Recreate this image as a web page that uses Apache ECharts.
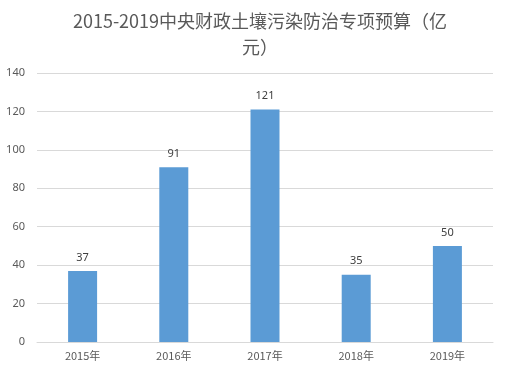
<!DOCTYPE html>
<html><head><meta charset="utf-8">
<script src="https://cdn.jsdelivr.net/npm/echarts@6/dist/echarts.min.js"></script>
<style>html,body{margin:0;padding:0;background:#fff}#c{width:509px;height:375px}</style>
</head><body><div id="c"></div>
<script>
const categories = ['2015年','2016年','2017年','2018年','2019年'];
const values = [37, 91, 121, 35, 50];
const titleText = '2015-2019中央财政土壤污染防治专项预算（亿\n元）';
const chart = echarts.init(document.getElementById('c'));
chart.setOption({
  animation:false,
  title:{text:titleText,left:255,top:3,textAlign:'center',
    textStyle:{fontFamily:'Noto Sans CJK SC',fontSize:18,fontWeight:'normal',color:'#595959',lineHeight:26}},
  grid:{left:37,right:16,top:73,bottom:33},
  xAxis:{type:'category',data:categories,
    axisLine:{lineStyle:{color:'#d9d9d9'}},axisTick:{show:false},
    axisLabel:{color:'#595959',fontSize:11,fontFamily:'Noto Sans CJK SC',margin:8}},
  yAxis:{type:'value',min:0,max:140,interval:20,
    axisLine:{show:false},axisTick:{show:false},
    splitLine:{lineStyle:{color:'#d9d9d9'}},
    axisLabel:{color:'#595959',fontSize:11,fontFamily:'Noto Sans',margin:12}},
  series:[{type:'bar',data:values,barWidth:29,itemStyle:{color:'#5b9bd5'},
    label:{show:true,position:'top',distance:8,color:'#404040',fontSize:11,fontFamily:'Noto Sans'}}]
});
</script></body></html>
